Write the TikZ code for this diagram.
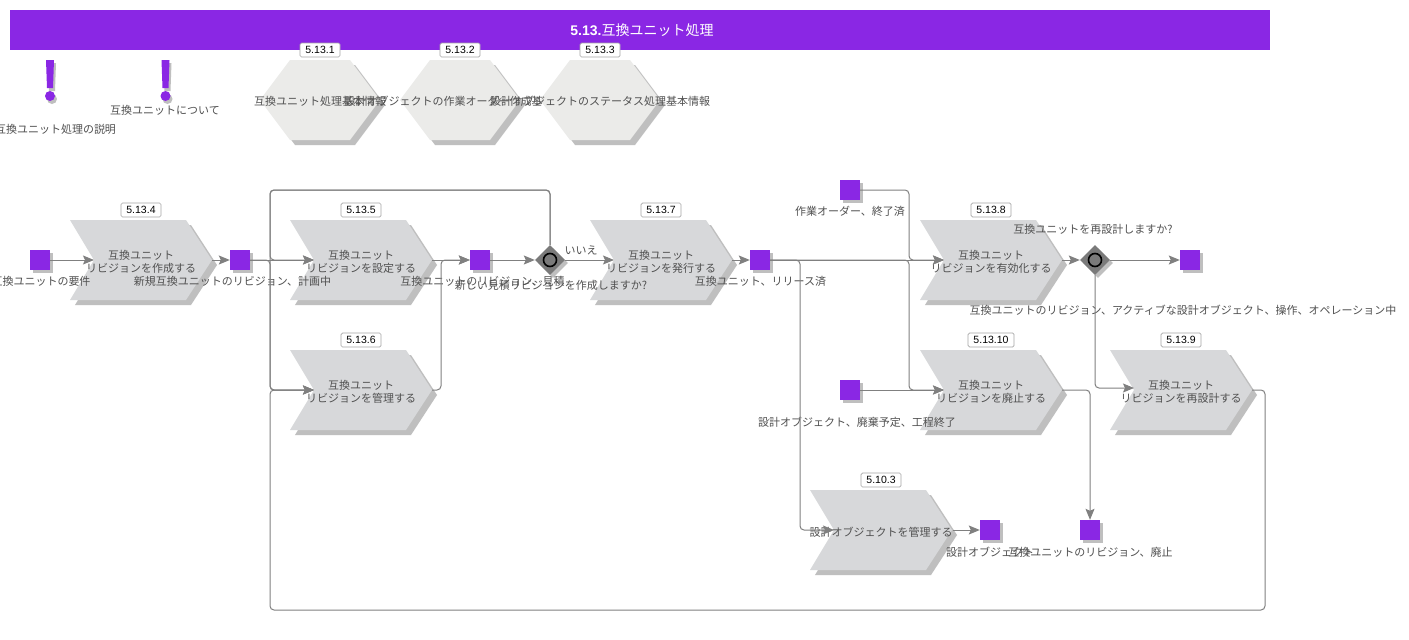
\documentclass[tikz,border=0pt]{standalone}
\usepackage{fontspec}
\setmainfont{Noto Sans CJK JP}
\newfontfamily\numfont{Liberation Sans}
\usetikzlibrary{arrows.meta,shapes.geometric}
\definecolor{purp}{HTML}{8A27E4}
\definecolor{chevfill}{HTML}{D7D8DA}
\definecolor{hexfill}{HTML}{EBEBE9}
\definecolor{shad}{HTML}{BFBFBF}
\definecolor{linecol}{HTML}{808080}
\definecolor{txt}{HTML}{505050}
\tikzset{
  x=1pt,y=-1pt,
  conn/.style={draw=linecol,line width=1pt,rounded corners=4pt,-{Stealth[length=11pt,width=9pt,inset=2pt]}},
  lab/.style={font=\fontsize{11}{13}\selectfont,text=txt,inner sep=0pt,align=center},
  numbox/.style={draw=black!35,fill=white,rounded corners=1.5pt,line width=0.7pt,minimum height=14pt,inner sep=0pt,font=\numfont\fontsize{10.5}{12}\selectfont,text=black},
  evt/.style={fill=purp,minimum size=20pt,inner sep=0pt},
  evtshad/.style={fill=shad,minimum size=20pt,inner sep=0pt},
  gate/.style={diamond,fill=black!52,minimum size=30pt,inner sep=0pt},
  ring/.style={circle,draw=black,line width=1.6pt,fill=black!52,minimum size=13pt,inner sep=0pt},
}
% name, left x, top y, box width, number, text
\newcommand{\chevbox}[6]{%
  \fill[shad] (#2+5,#3+5) -- (#2+121,#3+5) -- (#2+147,#3+45) -- (#2+121,#3+85) -- (#2+5,#3+85) -- (#2+29,#3+45) -- cycle;
  \fill[chevfill] (#2,#3) -- (#2+116,#3) -- (#2+142,#3+40) -- (#2+116,#3+80) -- (#2,#3+80) -- (#2+24,#3+40) -- cycle;
  \node[lab,minimum width=142pt,minimum height=80pt] (#1) at (#2+71,#3+40) {\rule{0pt}{13.5pt}#6};
  \coordinate (#1-in) at (#2+24,#3+40);
  \node[numbox,minimum width=#4pt] (#1-num) at (#2+71,#3-10) {#5};
}
% name, centre x, number, text
\newcommand{\hexbox}[4]{%
  \fill[shad] (#2-55,105) -- (#2-25,65) -- (#2+35,65) -- (#2+65,105) -- (#2+35,145) -- (#2-25,145) -- cycle;
  \fill[hexfill] (#2-60,100) -- (#2-30,60) -- (#2+30,60) -- (#2+60,100) -- (#2+30,140) -- (#2-30,140) -- cycle;
  \node[lab] (#1) at (#2,101) {#4};
  \node[numbox,minimum width=40pt] (#1-num) at (#2,50) {#3};
}
% name, centre x, centre y
\newcommand{\evtbox}[3]{%
  \node[evtshad] at (#2+3,#3+3) {};
  \node[evt] (#1) at (#2,#3) {};
}
\newcommand{\gatebox}[3]{%
  \node[gate,fill=shad] at (#2+3,#3+3) {};
  \node[gate] (#1) at (#2,#3) {};
  \node[ring] at (#2,#3) {};
}
\newcommand{\bang}[1]{%
  \fill[shad] (#1-2,63) -- (#1+6,63) -- (#1+5,91) -- (#1-1,91) -- cycle;
  \fill[shad] (#1+2,99) circle (5);
  \fill[purp] (#1-4,60) -- (#1+4,60) -- (#1+3,88) -- (#1-3,88) -- cycle;
  \fill[purp] (#1,96) circle (5);
}
\begin{document}
\begin{tikzpicture}
\useasboundingbox (0,0) rectangle (1409,640);
\fill[white] (0,0) rectangle (1409,640);
\node[fill=purp,minimum width=1260pt,minimum height=40pt,inner sep=0pt,text=white,font=\fontsize{14}{16}\selectfont] (title) at (640,30) {\hspace*{4pt}{\numfont\bfseries 5.13.}互換ユニット処理};

\bang{50}
\bang{165.5}
\node[lab] (note1) at (55.5,129) {互換ユニット処理の説明};
\node[lab] (note2) at (165,110) {互換ユニットについて};

\hexbox{h1}{320}{5.13.1}{互換ユニット処理基本情報}
\hexbox{h2}{460}{5.13.2}{設計オブジェクトの作業オーダー作成基本情報}
\hexbox{h3}{600}{5.13.3}{設計オブジェクトのステータス処理基本情報}

\chevbox{f1}{70}{220}{40}{5.13.4}{互換ユニット\\リビジョンを作成する}
\chevbox{f2}{290}{220}{40}{5.13.5}{互換ユニット\\リビジョンを設定する}
\chevbox{f3}{290}{350}{40}{5.13.6}{互換ユニット\\リビジョンを管理する}
\chevbox{f4}{590}{220}{40}{5.13.7}{互換ユニット\\リビジョンを発行する}
\chevbox{f5}{920}{220}{40}{5.13.8}{互換ユニット\\リビジョンを有効化する}
\chevbox{f6}{920}{350}{46}{5.13.10}{互換ユニット\\リビジョンを廃止する}
\chevbox{f7}{1110}{350}{40}{5.13.9}{互換ユニット\\リビジョンを再設計する}
\chevbox{f8}{810}{490}{40}{5.10.3}{設計オブジェクトを管理する}

\evtbox{e1}{40}{260}
\evtbox{e2}{240}{260}
\evtbox{e3}{480}{260}
\evtbox{e4}{760}{260}
\evtbox{e5}{850}{190}
\evtbox{e6}{850}{390}
\evtbox{e7}{1190}{260}
\evtbox{e8}{990}{530}
\evtbox{e9}{1090}{530}
\gatebox{d1}{550}{260}
\gatebox{d2}{1095}{260}

\node[lab] (l1) at (41,281) {互換ユニットの要件};
\node[lab] (l2) at (232.5,281) {新規互換ユニットのリビジョン、計画中};
\node[lab] (l3) at (482.5,281) {互換ユニットのリビジョン、見積};
\node[lab] (l4) at (551,285) {新しい見積リビジョンを作成しますか?};
\node[lab] (l5) at (581,250) {いいえ};
\node[lab] (l6) at (760.5,281) {互換ユニット、リリース済};
\node[lab] (l7) at (850,211) {作業オーダー、終了済};
\node[lab] (l8) at (857,422) {設計オブジェクト、廃棄予定、工程終了};
\node[lab] (l9) at (1093,229) {互換ユニットを再設計しますか?};
\node[lab] (l10) at (1183,310) {互換ユニットのリビジョン、アクティブな設計オブジェクト、操作、オペレーション中};
\node[lab] (l11) at (990,552) {設計オブジェクト};
\node[lab] (l12) at (1090.5,552) {互換ユニットのリビジョン、廃止};

\coordinate (busL) at (270,190);
\coordinate (busB) at (270,610);
\coordinate (busM) at (441,260);
\coordinate (busR) at (800,260);
\coordinate (busS) at (909,190);
\coordinate (busD) at (1090,390);
\coordinate (busE) at (1265,390);
\coordinate (f7-entry) at (1134,388);

\draw[conn] (e1.east) -- (f1-in);
\draw[conn] (f1.east) -- (e2.west);
\draw[conn] (e2.east) -- (f2-in);
\draw[conn] (e2.east) -- (busL |- e2.east) -- (busL |- f3) -- (f3-in);
\draw[conn] (d1.north) -- (d1.north |- busL) -- (busL) -- (busL |- f2) -- (f2-in);
\draw[conn] (d1.north) -- (d1.north |- busL) -- (busL) -- (busL |- f3) -- (f3-in);
\draw[conn] (f7.east) -- (busE) -- (busE |- busB) -- (busB) -- (busL |- f3) -- (f3-in);
\draw[conn] (f2.east) -- (e3.west);
\draw[conn] (f3.east) -- (busM |- f3) -- (busM) -- (e3.west);
\draw[conn] (e3.east) -- (d1.west);
\draw[conn] (d1.east) -- (f4-in);
\draw[conn] (f4.east) -- (e4.west);
\draw[conn] (e4.east) -- (f5-in);
\draw[conn] (e4.east) -- (busR) -- (busR |- f8) -- (f8-in);
\draw[conn] (e4.east) -- (busS |- e4) -- (busS |- f6) -- (f6-in);
\draw[conn] (e5.east) -- (busS) -- (busS |- f5) -- (f5-in);
\draw[conn] (e6.east) -- (f6-in);
\draw[conn] (f5.east) -- (d2.west);
\draw[conn] (d2.east) -- (e7.west);
\draw[conn] (d2.south) -- (d2.south |- f7-entry) -- (f7-entry);
\draw[conn] (f6.east) -- (busD) -- (e9.north);
\draw[conn] (f8.east) -- (e8.west);
\end{tikzpicture}
\end{document}
